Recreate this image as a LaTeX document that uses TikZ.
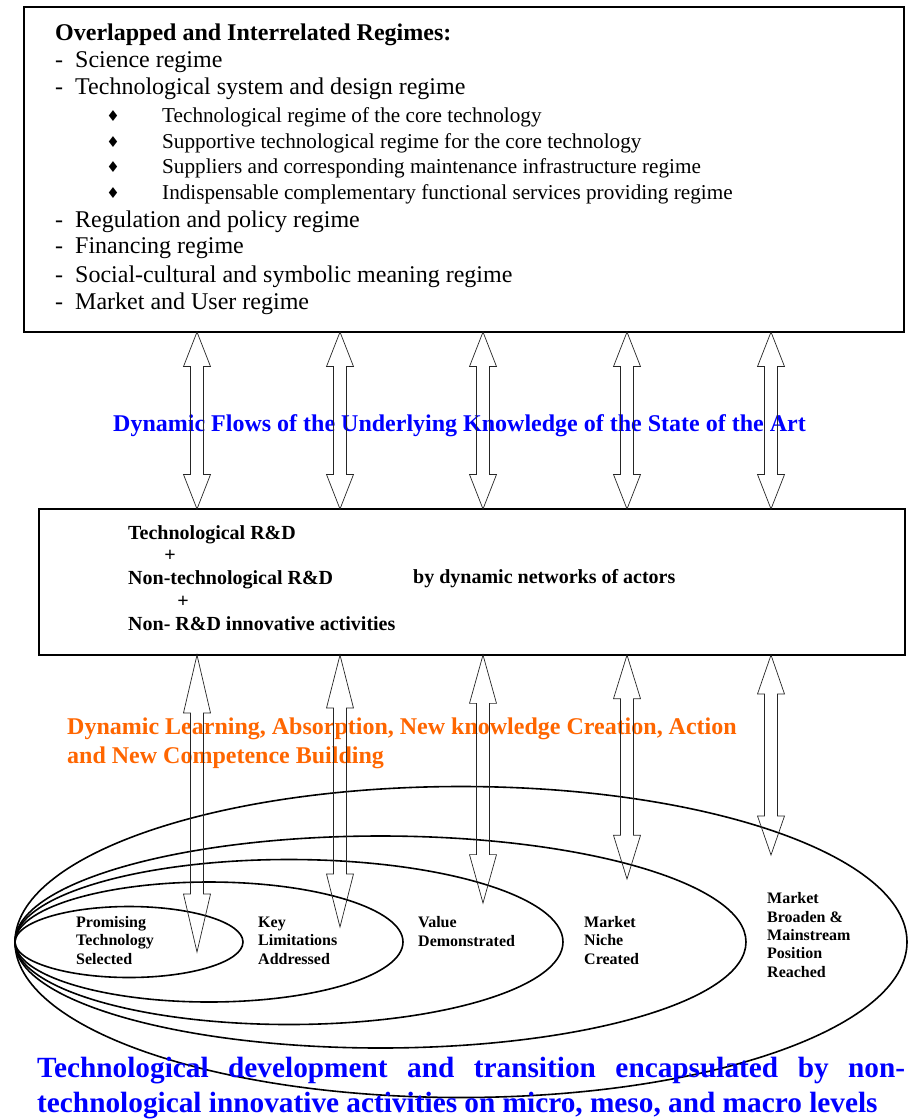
\documentclass[tikz,border=0pt]{standalone}
\usepackage{fontspec}
\setmainfont{Liberation Serif}
\newfontfamily\symfont{DejaVu Sans}
\usetikzlibrary{calc,shapes.geometric}
\definecolor{flowblue}{RGB}{0,0,255}
\definecolor{learnorange}{RGB}{255,102,0}
\tikzset{
  box/.style={draw=black, line width=1.6pt, inner sep=0pt, fill=none},
  stageell/.style={draw=black, ellipse, line width=1.6pt, inner sep=0pt},
  flowarrow/.style={draw=black!85, line width=0.7pt},
  tbtitle/.style={anchor=base west, inner sep=0pt, font=\fontsize{24}{28}\selectfont\bfseries},
  tbitem/.style={anchor=base west, inner sep=0pt, font=\fontsize{24}{28}\selectfont},
  tbsub/.style={anchor=base west, inner sep=0pt, font=\fontsize{21.2}{25}\selectfont},
  tbbullet/.style={anchor=center, inner sep=0pt, font=\symfont\fontsize{15}{16}\selectfont},
  rdtext/.style={anchor=base west, inner sep=0pt, font=\fontsize{20}{23}\selectfont\bfseries},
  rdplus/.style={anchor=base, inner sep=0pt, font=\fontsize{20}{23}\selectfont\bfseries},
  stage/.style={anchor=base west, inner sep=0pt, align=left, font=\fontsize{16}{18.3}\selectfont\bfseries},
  flowlabel/.style={anchor=base, inner sep=0pt, text=flowblue, font=\fontsize{24}{28}\selectfont\bfseries},
  learnlabel/.style={anchor=base west, inner sep=0pt, text=learnorange, font=\fontsize{24}{28}\selectfont\bfseries},
  bottomlabel/.style={anchor=base west, inner sep=0pt, text=flowblue, font=\fontsize{29.3}{35}\selectfont\bfseries}
}
\newcommand{\dblarr}[2]{%
  \draw[flowarrow] let \p1=(#1), \p2=(#2), \n1={0.195*(\y1-\y2)} in
  (\x1,\y1) -- ({\x1+13.5pt},{\y1-\n1}) -- ({\x1+6.5pt},{\y1-\n1})
  -- ({\x1+6.5pt},{\y2+\n1}) -- ({\x1+13.5pt},{\y2+\n1}) -- (\x1,\y2)
  -- ({\x1-13.5pt},{\y2+\n1}) -- ({\x1-6.5pt},{\y2+\n1})
  -- ({\x1-6.5pt},{\y1-\n1}) -- ({\x1-13.5pt},{\y1-\n1}) -- cycle;}
\begin{document}
\begin{tikzpicture}[x=1pt,y=-1pt]
\useasboundingbox (0,0) rectangle (909,1119);
\fill[white] (0,0) rectangle (909,1119);

% ---------- top box ----------
\node[box, minimum width=880pt, minimum height=325pt] (regimes) at (464,169.5) {};
\node[tbtitle] (title) at (55,40) {Overlapped and Interrelated Regimes:};
\node[tbitem] (d1) at (55,67) {-};
\node[tbitem] (i1) at (75,67) {Science regime};
\node[tbitem] (d2) at (55,94) {-};
\node[tbitem] (i2) at (75,94) {Technological system and design regime};
\node[tbbullet] (b1) at (113,116) {♦};
\node[tbsub] (s1) at (162,122) {Technological regime of the core technology};
\node[tbbullet] (b2) at (113,142) {♦};
\node[tbsub] (s2) at (162,148) {Supportive technological regime for the core technology};
\node[tbbullet] (b3) at (113,167) {♦};
\node[tbsub] (s3) at (162,173) {Suppliers and corresponding maintenance infrastructure regime};
\node[tbbullet] (b4) at (113,193) {♦};
\node[tbsub] (s4) at (162,199) {Indispensable complementary functional services providing regime};
\node[tbitem] (d3) at (55,227) {-};
\node[tbitem] (i3) at (75,227) {Regulation and policy regime};
\node[tbitem] (d4) at (55,253) {-};
\node[tbitem] (i4) at (75,253) {Financing regime};
\node[tbitem] (d5) at (55,282) {-};
\node[tbitem] (i5) at (75,282) {Social-cultural and symbolic meaning regime};
\node[tbitem] (d6) at (55,309) {-};
\node[tbitem] (i6) at (75,309) {Market and User regime};

% ---------- middle box ----------
\node[box, minimum width=866pt, minimum height=146pt] (rd) at (472,582) {};
\node[rdtext] (r1) at (128,539) {Technological R\&D};
\node[rdplus] (p1) at (170,561) {+};
\node[rdtext] (r2) at (128,584) {Non-technological R\&D};
\node[rdtext] (r3) at (413,583) {by dynamic networks of actors};
\node[rdplus] (p2) at (183,607) {+};
\node[rdtext] (r4) at (128,630) {Non- R\&D innovative activities};

% ---------- labels ----------
\node[flowlabel] (flows) at (459.5,431) {Dynamic Flows of the Underlying Knowledge of the State of the Art};
\node[learnlabel] (learn1) at (67,734) {Dynamic Learning, Absorption, New knowledge Creation, Action};
\node[learnlabel] (learn2) at (67,763) {and New Competence Building};

% ---------- ellipses ----------
\node[stageell, minimum width=892pt, minimum height=311pt] (e5) at (461,942) {};
\node[stageell, minimum width=731pt, minimum height=212pt] (e4) at (380.5,942) {};
\node[stageell, minimum width=548pt, minimum height=165pt] (e3) at (289,942) {};
\node[stageell, minimum width=388pt, minimum height=120pt] (e2) at (209,942) {};
\node[stageell, minimum width=228pt, minimum height=71pt] (e1) at (129,942) {};

% (base anchor of a multi-line node = baseline of its last line)
\node[stage] (t1) at (76,964) {Promising\\Technology\\Selected};
\node[stage] (t2) at (258,964) {Key\\Limitations\\Addressed};
\node[stage] (t3) at (418,946) {Value\\Demonstrated};
\node[stage] (t4) at (584,964) {Market\\Niche\\Created};
\node[stage] (t5) at (767,977) {Market\\Broaden \&\\Mainstream\\Position\\Reached};

% ---------- bottom label ----------
\node[bottomlabel] (bot1) at (37,1077) {\makebox[868pt][s]{Technological development and transition encapsulated by non-}};
\node[bottomlabel] (bot2) at (37,1112) {technological innovative activities on micro, meso, and macro levels};

% ---------- arrows ----------
\coordinate (ut1) at (197,332); \coordinate (ub1) at (197,509);
\coordinate (ut2) at (340,332); \coordinate (ub2) at (340,509);
\coordinate (ut3) at (483,332); \coordinate (ub3) at (483,509);
\coordinate (ut4) at (627,332); \coordinate (ub4) at (627,509);
\coordinate (ut5) at (771,332); \coordinate (ub5) at (771,509);
\coordinate (lt1) at (197,655); \coordinate (lb1) at (197,952);
\coordinate (lt2) at (340,655); \coordinate (lb2) at (340,927);
\coordinate (lt3) at (483,655); \coordinate (lb3) at (483,903);
\coordinate (lt4) at (627,655); \coordinate (lb4) at (627,879);
\coordinate (lt5) at (771,655); \coordinate (lb5) at (771,855);
\foreach \i in {1,...,5} {
  \dblarr{ut\i}{ub\i}
  \dblarr{lt\i}{lb\i}
}
\end{tikzpicture}
\end{document}
